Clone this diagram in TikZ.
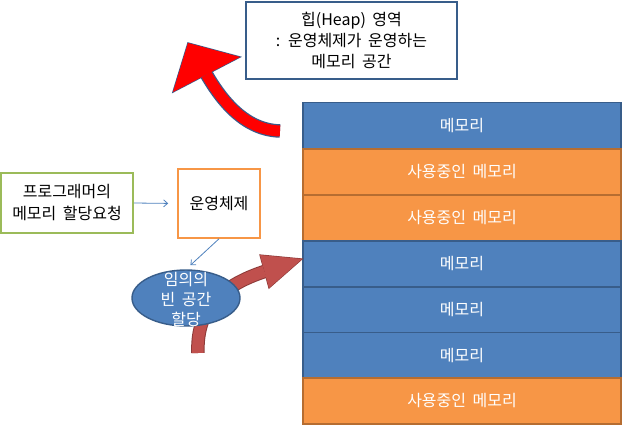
\documentclass[tikz,border=0pt]{standalone}
\usepackage{fontspec}
\setmainfont[WordSpace=1.8]{Noto Sans CJK KR}
\usetikzlibrary{arrows.meta,shapes.geometric}
\definecolor{memblue}{HTML}{4F81BD}
\definecolor{memblueline}{HTML}{385D8A}
\definecolor{memorange}{HTML}{F79646}
\definecolor{memorangeline}{HTML}{B66D31}
\definecolor{boxgreen}{HTML}{9BBB59}
\definecolor{arrowborder}{HTML}{3B5A8A}
\definecolor{brown}{HTML}{C0504D}
\definecolor{brownline}{HTML}{8C3A38}
\tikzset{
  txt/.style={font=\fontsize{16}{21}\selectfont, align=center, inner sep=0pt},
  bluerow/.style={txt, text=white, fill=memblue, draw=memblueline, line width=1.6pt, minimum width=318pt, minimum height=46pt},
  orangerow/.style={txt, text=white, fill=memorange, draw=memorangeline, line width=1.6pt, minimum width=318pt, minimum height=46pt},
  thinarrow/.style={draw=memblue, line width=0.8pt, -{Straight Barb[length=4pt,width=7pt]}},
}
\begin{document}
\begin{tikzpicture}[x=1pt,y=-1pt]
\useasboundingbox (0,0) rectangle (633,445);

% memory stack
\node[bluerow]   (m1) at (462,125.5) {메모리};
\node[orangerow] (m2) at (462,172) {사용중인 메모리};
\node[orangerow] (m3) at (462,218) {사용중인 메모리};
\node[bluerow]   (m4) at (462,264) {메모리};
\node[bluerow]   (m5) at (462,310) {메모리};
\node[bluerow]   (m6) at (462,355.5) {메모리};
\node[orangerow] (m7) at (462,401) {사용중인 메모리};

% heap box
\node[txt, draw=memblueline, line width=1.6pt, fill=white, minimum width=211pt, minimum height=77pt] (heap) at (351.5,40.5)
  {힙(Heap) 영역\\: 운영체제가 운영하는\\메모리 공간};

% red curved arrow
\coordinate (rT) at (188,43);
\coordinate (rA) at (173,92);
\coordinate (rB) at (240,57);
\coordinate (rM) at (206.5,74.5);
\coordinate (rS) at (280,131);
\draw[line width=13.5pt, arrowborder] (rS) .. controls (245,130) and (222,101) .. (rM);
\filldraw[fill=red, draw=arrowborder, line width=1.4pt, line join=miter] (rT) -- (rA) -- (rB) -- cycle;
\draw[line width=11pt, red] (rS) .. controls (245,130) and (222,101) .. (rM);
\fill[red] (rT) -- (rA) -- (rB) -- cycle;

% program box
\node[txt, draw=boxgreen, line width=1.6pt, minimum width=132pt, minimum height=60pt, font=\fontsize{16}{22}\selectfont] (prog) at (67,203)
  {프로그래머의\\메모리 할당요청};

% OS box
\node[txt, draw=memorange, line width=1.6pt, minimum width=82pt, minimum height=69pt] (os) at (219,203.5) {운영체제};

% brown curved arrow
\coordinate (bT) at (302,259);
\coordinate (bA) at (260,255);
\coordinate (bB) at (269,288);
\coordinate (bM) at (264.5,271.5);
\coordinate (bS) at (198,353);
\draw[line width=13.5pt, brownline] (bS) .. controls (196,305) and (227,284) .. (bM);
\filldraw[fill=brown, draw=brownline, line width=1.2pt] (bT) -- (bA) -- (bB) -- cycle;
\draw[line width=11.5pt, brown] (bS) .. controls (196,305) and (227,284) .. (bM);
\fill[brown] (bT) -- (bA) -- (bB) -- cycle;

% ellipse
\node[ellipse, fill=memblue, draw=memblueline, line width=1.4pt, minimum width=108pt, minimum height=56pt, inner sep=0pt] (ell) at (186,298) {};
\node[txt, text=white, font=\fontsize{16}{20}\selectfont] (elltext) at (186,299) {임의의\\빈 공간\\할당};

% connectors
\draw[thinarrow, shorten >=9pt] (prog.east) -- (os.west);
\draw[thinarrow, shorten >=6pt] (os.south) -- (ell.north);
\end{tikzpicture}
\end{document}
